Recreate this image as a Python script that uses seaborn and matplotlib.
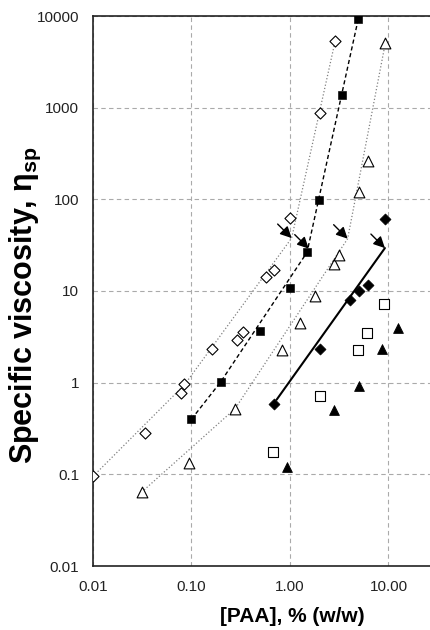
import matplotlib
matplotlib.use('Agg')
import numpy as np
import pandas as pd
import matplotlib.pyplot as plt
import seaborn as sns

# open diamonds
dia_o_x = [0.01, 0.034, 0.078, 0.084, 0.163, 0.29, 0.333, 0.575, 0.69, 1.0, 2.02, 2.88]
dia_o_y = [0.095, 0.285, 0.78, 0.975, 2.33, 2.89, 3.6, 14.1, 16.8, 62, 865, 5370]
dia_o_fit_x = [0.01, 0.085, 1.04, 2.88]
dia_o_fit_y = [0.095, 0.95, 37.8, 5370]

# filled squares
sq_f_x = [0.10, 0.198, 0.50, 0.99, 1.49, 1.97, 3.4, 4.94]
sq_f_y = [0.40, 1.02, 3.66, 10.7, 26.4, 98, 1371, 9330]
sq_f_fit_x = [0.10, 0.198, 1.49, 4.94]
sq_f_fit_y = [0.40, 1.02, 26.4, 9330]

# open triangles
tri_o_x = [0.0312, 0.094, 0.277, 0.83, 1.26, 1.81, 2.8, 3.17, 4.98, 6.15, 9.29]
tri_o_y = [0.064, 0.132, 0.52, 2.29, 4.48, 8.8, 19.7, 24.7, 119, 264, 5070]
tri_o_fit_x = [0.0312, 0.277, 3.85, 9.29]
tri_o_fit_y = [0.064, 0.52, 37.2, 5070]

# filled diamonds
dia_f_x = [0.69, 2.02, 4.04, 5.0, 6.2, 9.29]
dia_f_y = [0.59, 2.31, 7.98, 10.0, 11.5, 61]
dia_f_fit_x = [0.73, 9.2]
dia_f_fit_y = [0.65, 29.4]

# open squares
sq_o_x = [0.667, 2.0, 4.94, 6.0, 9.0]
sq_o_y = [0.177, 0.72, 2.25, 3.51, 7.2]

# filled triangles
tri_f_x = [0.93, 2.8, 4.98, 8.5, 12.5]
tri_f_y = [0.119, 0.50, 0.91, 2.33, 3.98]

# knees marked by arrows
knee_x = [1.04, 1.55, 3.85, 9.2]
knee_y = [37.8, 29.0, 37.2, 29.4]

xticks = [0.01, 0.1, 1, 10]
xtick_labels = ['0.01', '0.10', '1.00', '10.00']
yticks = [0.01, 0.1, 1, 10, 100, 1000, 10000]
ytick_labels = ['0.01', '0.1', '1', '10', '100', '1000', '10000']

sns.set_style("white")
plt.rcParams['font.family'] = ['Liberation Sans', 'DejaVu Sans']
plt.rcParams['mathtext.fontset'] = 'custom'
plt.rcParams['mathtext.rm'] = 'Liberation Sans'
plt.rcParams['mathtext.bf'] = 'Liberation Sans:bold'
plt.rcParams['text.color'] = 'black'
plt.rcParams['axes.labelcolor'] = 'black'
plt.rcParams['xtick.color'] = '#222222'
plt.rcParams['ytick.color'] = '#222222'

fig = plt.figure(figsize=(4.3, 6.3), dpi=100)
ax = fig.add_axes([93 / 430, 64 / 630, 337 / 430, 550 / 630])

# fitted lines
sns.lineplot(x=dia_o_fit_x, y=dia_o_fit_y, ax=ax, color='#808080', lw=0.9, linestyle=':', sort=False)
sns.lineplot(x=sq_f_fit_x, y=sq_f_fit_y, ax=ax, color='black', lw=1.0, linestyle=(0, (3, 2)), sort=False)
sns.lineplot(x=tri_o_fit_x, y=tri_o_fit_y, ax=ax, color='#808080', lw=0.9, linestyle=':', sort=False)
sns.lineplot(x=dia_f_fit_x, y=dia_f_fit_y, ax=ax, color='black', lw=1.5, sort=False)

# points
sns.scatterplot(x=dia_o_x, y=dia_o_y, ax=ax, marker='D', s=32, facecolor='white', edgecolor='black', linewidth=0.8, zorder=3)
sns.scatterplot(x=sq_f_x, y=sq_f_y, ax=ax, marker='s', s=30, color='black', edgecolor='black', zorder=3)
sns.scatterplot(x=tri_o_x, y=tri_o_y, ax=ax, marker='^', s=60, facecolor='white', edgecolor='black', linewidth=0.8, zorder=3)
sns.scatterplot(x=dia_f_x, y=dia_f_y, ax=ax, marker='D', s=32, color='black', edgecolor='black', zorder=3)
sns.scatterplot(x=sq_o_x, y=sq_o_y, ax=ax, marker='s', s=50, facecolor='white', edgecolor='black', linewidth=0.8, zorder=3)
sns.scatterplot(x=tri_f_x, y=tri_f_y, ax=ax, marker='^', s=50, color='black', edgecolor='black', zorder=3)

for kx, ky in zip(knee_x, knee_y):
    ax.annotate('', xy=(kx, ky), xytext=(-14, 14), textcoords='offset pixels',
                arrowprops=dict(arrowstyle='-|>', color='black', lw=1.0,
                                mutation_scale=17, shrinkA=0, shrinkB=0), zorder=4)

ax.set_xscale('log')
ax.set_yscale('log')
ax.set_xlim(0.01, 26.4)
ax.set_ylim(0.01, 10000)
ax.set_xticks(xticks)
ax.set_xticklabels(xtick_labels)
ax.set_yticks(yticks)
ax.set_yticklabels(ytick_labels)
ax.minorticks_off()
ax.tick_params(axis='both', direction='out', length=4, width=1, labelsize=11, pad=6)
ax.grid(True, color='#aaaaaa', linestyle=(0, (4, 3)), lw=0.8)
for side in ['left', 'bottom', 'top']:
    ax.spines[side].set_color('#222222')
    ax.spines[side].set_linewidth(1.2)
ax.spines['right'].set_visible(False)

ax.set_xlabel('[PAA], % (w/w)', fontsize=15, fontweight='bold')
ax.xaxis.set_label_coords(0.59, -0.075)
ax.set_ylabel(r'Specific viscosity, η$_{\mathbf{sp}}$', fontsize=22, fontweight='bold')
ax.yaxis.set_label_coords(-0.148, 0.475)

fig.savefig('out.png', dpi=100)
